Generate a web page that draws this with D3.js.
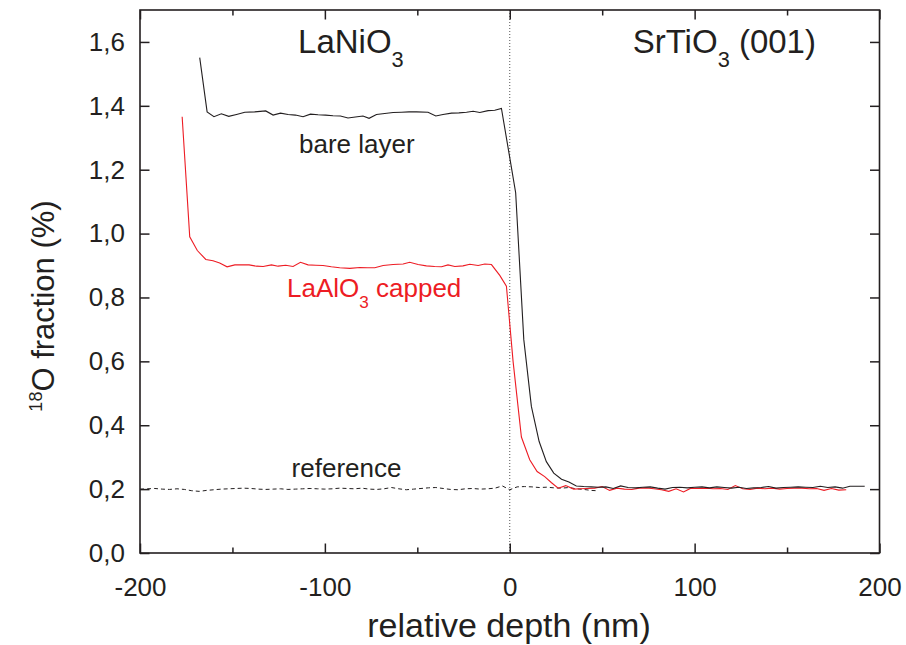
<!DOCTYPE html>
<html>
<head>
<meta charset="utf-8">
<script src="https://cdn.jsdelivr.net/npm/d3@7"></script>
<style>
  html, body { margin: 0; padding: 0; background: #fff; }
  svg { display: block; font-family: "Liberation Sans", Arial, sans-serif; }
</style>
</head>
<body>
<svg id="chart" width="906" height="645"></svg>
<script>
// Depth profiles of the 18O fraction across the LaNiO3 / SrTiO3 interface
const bareDepth = [-167.7,-163.7,-160,-156,-152,-147.8,-143.3,-138,-132,-128,-124,-119.9,-115.9,-111.8,-107.8,-103.7,-99.6,-95.6,-91.6,-87.5,-83.5,-79.4,-76.1,-72.1,-67.6,-63.1,-58.6,-54.5,-50.4,-44.2,-40,-36.1,-31.5,-27.5,-23.4,-19.8,-16.2,-11.7,-8.1,-4.5,-0.5,3.2,7.6,11.7,15.9,19.8,23.8,28,32,36,40,44,48,52,56,60,64,68,72,76,80,84,88,92,96,100,104,108,112,116,120,124,128,132,136,140,144,148,152,156,160,164,168,172,176,180,184,188,192];
const bareFraction = [1.551,1.381,1.366,1.375,1.367,1.373,1.380,1.381,1.384,1.371,1.377,1.373,1.371,1.366,1.374,1.372,1.371,1.369,1.368,1.362,1.365,1.368,1.361,1.373,1.376,1.379,1.380,1.381,1.381,1.380,1.368,1.373,1.377,1.378,1.380,1.383,1.379,1.385,1.386,1.392,1.255,1.128,0.668,0.459,0.349,0.286,0.250,0.231,0.222,0.210,0.208,0.207,0.206,0.207,0.202,0.210,0.205,0.204,0.206,0.207,0.203,0.200,0.205,0.206,0.204,0.206,0.207,0.204,0.207,0.205,0.203,0.206,0.202,0.204,0.205,0.208,0.203,0.205,0.206,0.207,0.206,0.205,0.209,0.205,0.207,0.203,0.209,0.209,0.209];

const cappedDepth = [-177.2,-173.1,-169,-164.4,-160.5,-156.9,-152.9,-148.7,-144.8,-141,-137,-133.4,-128.9,-125.3,-121.2,-117.2,-113.2,-109.1,-104.9,-101,-96.5,-92,-86.5,-81.1,-77,-73,-68.5,-63.1,-57.7,-54.1,-49.6,-45.1,-40.6,-36.9,-33.4,-29.7,-25.3,-21.6,-17.1,-13.5,-9.9,-5.4,-1.8,1.8,6.3,10.8,14.8,18.9,22.6,26.2,30.3,34.6,38,42,46,50,54,58,62,66,70,74,78,82,86,90,94,98,102,106,110,114,118,122,126,130,134,138,142,146,150,154,158,162,166,170,174,178,182];
const cappedFraction = [1.366,0.990,0.947,0.919,0.915,0.908,0.896,0.902,0.902,0.902,0.898,0.897,0.902,0.898,0.901,0.897,0.910,0.902,0.901,0.900,0.896,0.893,0.891,0.894,0.893,0.893,0.900,0.903,0.905,0.910,0.903,0.899,0.897,0.896,0.902,0.897,0.899,0.904,0.900,0.905,0.903,0.869,0.835,0.600,0.363,0.292,0.255,0.239,0.220,0.203,0.211,0.200,0.201,0.202,0.203,0.208,0.196,0.203,0.200,0.199,0.203,0.204,0.201,0.198,0.193,0.201,0.191,0.203,0.202,0.203,0.201,0.202,0.199,0.211,0.201,0.199,0.203,0.201,0.203,0.200,0.202,0.203,0.203,0.201,0.202,0.196,0.202,0.197,0.198];

const refDepth = [-200,-196,-192,-188,-184,-180,-176,-172,-168,-164,-160,-156,-152,-148,-144,-140,-136,-132,-128,-124,-120,-116,-112,-108,-104,-100,-96,-92,-88,-84,-80,-76,-72,-68,-64,-60,-56,-52,-48,-44,-40,-36,-32,-28,-24,-20,-16,-12,-8,-4,0,4,8,12,16,20,24,28,32,36,40,44,47];
const refFraction = [0.200,0.201,0.202,0.200,0.199,0.201,0.199,0.195,0.193,0.196,0.198,0.200,0.201,0.202,0.203,0.202,0.200,0.199,0.200,0.201,0.199,0.200,0.201,0.202,0.201,0.200,0.201,0.203,0.202,0.201,0.203,0.200,0.199,0.201,0.205,0.201,0.198,0.200,0.202,0.204,0.205,0.202,0.199,0.198,0.201,0.202,0.200,0.201,0.203,0.210,0.198,0.207,0.208,0.207,0.205,0.206,0.204,0.203,0.205,0.201,0.199,0.196,0.195];

const xMajorTicks = [-200, -100, 0, 100, 200];
const xMinorTicks = [-150, -50, 50, 150];
const yMajorTicks = [0, 0.2, 0.4, 0.6, 0.8, 1.0, 1.2, 1.4, 1.6];

const ink = "#231f20";
const red = "#ed1c24";

const svg = d3.select("#chart");
const plotLeft = 140, plotRight = 879.5, plotTop = 10, plotBottom = 553;

const x = d3.scaleLinear().domain([-200, 200]).range([plotLeft, plotRight]);
const y = d3.scaleLinear().domain([0, 1.7]).range([plotBottom, plotTop]);

const zip = (xs, ys) => xs.map((d, i) => [d, ys[i]]);
const line = d3.line().x(d => x(d[0])).y(d => y(d[1]));

// interface marker at zero depth
svg.append("line")
  .attr("x1", x(0)).attr("x2", x(0))
  .attr("y1", plotTop).attr("y2", plotBottom)
  .attr("stroke", "#555").attr("stroke-width", 1)
  .attr("stroke-dasharray", "1,2");

// reference sample (dashed)
svg.append("path")
  .datum(zip(refDepth, refFraction))
  .attr("d", line)
  .attr("fill", "none").attr("stroke", ink)
  .attr("stroke-width", 1).attr("stroke-dasharray", "4,3");

// LaAlO3 capped sample
svg.append("path")
  .datum(zip(cappedDepth, cappedFraction))
  .attr("d", line)
  .attr("fill", "none").attr("stroke", red).attr("stroke-width", 1.1);

// bare layer
svg.append("path")
  .datum(zip(bareDepth, bareFraction))
  .attr("d", line)
  .attr("fill", "none").attr("stroke", ink).attr("stroke-width", 1.1);

// axes: inward ticks on all four sides
const fmtY = v => d3.format(".1f")(v).replace(".", ",");
const fmtX = v => String(v);

function styleAxis(g) {
  g.select(".domain").remove();
  g.selectAll("line").attr("stroke", ink).attr("stroke-width", 1.5);
  g.selectAll("text").attr("fill", ink).attr("font-size", 26)
    .attr("font-family", '"Liberation Sans", Arial, sans-serif');
}

svg.append("g").attr("transform", `translate(0,${plotBottom})`)
  .call(d3.axisBottom(x).tickValues(xMajorTicks).tickFormat(fmtX).tickSizeInner(-9.5).tickSizeOuter(0).tickPadding(25))
  .call(styleAxis);
svg.append("g").attr("transform", `translate(0,${plotBottom})`)
  .call(d3.axisBottom(x).tickValues(xMinorTicks).tickFormat("").tickSizeInner(-5.5).tickSizeOuter(0))
  .call(styleAxis);
svg.append("g").attr("transform", `translate(0,${plotTop})`)
  .call(d3.axisTop(x).tickValues(xMajorTicks).tickFormat("").tickSizeInner(-9.5).tickSizeOuter(0))
  .call(styleAxis);
svg.append("g").attr("transform", `translate(0,${plotTop})`)
  .call(d3.axisTop(x).tickValues(xMinorTicks).tickFormat("").tickSizeInner(-5.5).tickSizeOuter(0))
  .call(styleAxis);
svg.append("g").attr("transform", `translate(${plotLeft},0)`)
  .call(d3.axisLeft(y).tickValues(yMajorTicks).tickFormat(fmtY).tickSizeInner(-9.5).tickSizeOuter(0).tickPadding(15))
  .call(styleAxis);
svg.append("g").attr("transform", `translate(${plotRight},0)`)
  .call(d3.axisRight(y).tickValues(yMajorTicks).tickFormat("").tickSizeInner(-9.5).tickSizeOuter(0))
  .call(styleAxis);

// frame
svg.append("rect")
  .attr("x", plotLeft).attr("y", plotTop)
  .attr("width", plotRight - plotLeft).attr("height", plotBottom - plotTop)
  .attr("fill", "none").attr("stroke", ink).attr("stroke-width", 1.6);

// axis titles
svg.append("text")
  .attr("x", 509).attr("y", 637)
  .attr("text-anchor", "middle").attr("font-size", 34).attr("fill", ink)
  .text("relative depth (nm)");

const yTitle = svg.append("text")
  .attr("transform", `translate(54,306) rotate(-90)`)
  .attr("text-anchor", "middle").attr("font-size", 31).attr("fill", ink);
yTitle.append("tspan").attr("font-size", 18).attr("dy", -12).text("18");
yTitle.append("tspan").attr("dy", 12).text("O fraction (%)");

// annotations with subscripts
function chemLabel(px, py, parts, size, color) {
  const t = svg.append("text").attr("x", px).attr("y", py)
    .attr("font-size", size).attr("fill", color);
  parts.forEach(p => {
    if (p.sub) {
      t.append("tspan").attr("font-size", size * 0.66).attr("dy", size * 0.42).text(p.sub);
    } else {
      t.append("tspan").attr("dy", p.after ? -size * 0.42 : 0).text(p.text);
    }
  });
  return t;
}

chemLabel(x(-114.5), 53, [{text: "LaNiO"}, {sub: "3"}], 33, ink);
chemLabel(x(66.5), 53, [{text: "SrTiO"}, {sub: "3"}, {text: " (001)", after: true}], 33, ink);
chemLabel(x(-120.5), 297, [{text: "LaAlO"}, {sub: "3"}, {text: " capped", after: true}], 26, red);

svg.append("text").attr("x", x(-114)).attr("y", 153)
  .attr("font-size", 26).attr("fill", ink).text("bare layer");
svg.append("text").attr("x", x(-118)).attr("y", 477)
  .attr("font-size", 26).attr("fill", ink).text("reference");
</script>
</body>
</html>
